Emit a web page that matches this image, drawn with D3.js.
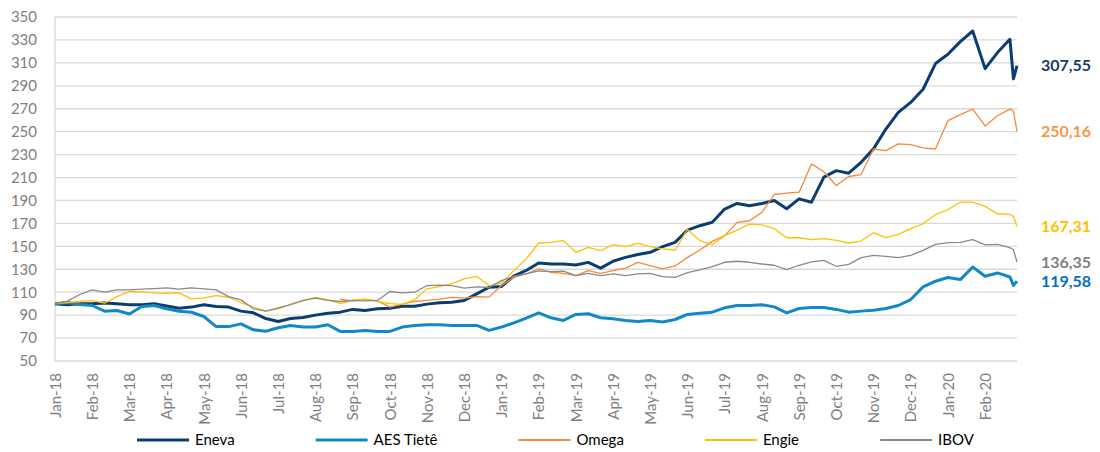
<!DOCTYPE html>
<html>
<head>
<meta charset="utf-8">
<script src="https://cdn.jsdelivr.net/npm/d3@7"></script>
<style>
  body { margin: 0; background: #fff; }
  svg { display: block; font-family: Lato, "Open Sans", sans-serif; }
</style>
</head>
<body>
<svg id="chart" width="1100" height="452"></svg>
<script>
// trading-day index of each sample (labels every 21 trading days)
let day = [];
for (let i = 0; i <= 539; i += 7) day.push(i);
day.push(541, 543);

let months = ['Jan-18', 'Feb-18', 'Mar-18', 'Apr-18', 'May-18', 'Jun-18', 'Jul-18', 'Aug-18',
  'Sep-18', 'Oct-18', 'Nov-18', 'Dec-18', 'Jan-19', 'Feb-19', 'Mar-19', 'Apr-19', 'May-19',
  'Jun-19', 'Jul-19', 'Aug-19', 'Sep-19', 'Oct-19', 'Nov-19', 'Dec-19', 'Jan-20', 'Feb-20'];

let eneva = [100, 99, 100, 100, 100.5, 100, 99, 99, 100, 98, 96, 97, 99, 97.5, 97, 93.5, 92, 87, 84.5, 87,
  88, 90, 91.7, 92.6, 95, 94, 95.5, 96, 97.8, 97.8, 99.6, 100.7, 101.3, 102.8, 108.5, 114.3, 115, 124, 129, 135.5,
  134.6, 134.6, 133.8, 136, 131, 137, 140.4, 142.8, 144.8, 149.7, 153.5, 164.2, 168, 171, 182.5, 187.4, 185.4, 187.4, 190, 182.8,
  191.4, 188.5, 210.3, 216, 213.8, 223.3, 235, 252.3, 266.8, 275.5, 287, 309.4, 317.5, 328.5, 337.8, 305, 319, 330.6, 296, 307.55];

let aes = [100, 101, 99.2, 98.4, 93.4, 94, 91, 97.5, 98.4, 95.5, 93.4, 92.5, 88.8, 80, 80, 82.4, 77.2, 76, 79, 81,
  79.6, 79.6, 81.6, 75.8, 75.8, 76.7, 75.8, 75.8, 79.6, 81, 81.6, 81.6, 81, 81, 81, 76.7, 79.6, 83.3, 87.4, 92,
  87.7, 85.4, 90.6, 91.2, 87.7, 86.8, 85.4, 84.5, 85.4, 84, 86.2, 90.6, 91.7, 92.6, 96.4, 98.4, 98.4, 99, 97.2, 92,
  95.8, 96.7, 96.7, 95, 92.6, 93.5, 94.3, 95.8, 98.4, 103.6, 114.6, 119.6, 122.8, 121, 132, 123.9, 126.8, 123.3, 116, 119.58];

let omega = [null, null, null, null, null, null, null, null, null, null, null, null, null, null, null, null, null, null, null, null,
  null, null, null, 104, 102.5, 103.6, 102.5, 97, 99.6, 101.9, 102.8, 103.9, 105.4, 104.8, 106.2, 105.7, 115.8, 123, 126, 130.3,
  127.4, 126.5, 124.5, 128.8, 126.5, 128.8, 131, 136, 133.2, 130.3, 132.9, 140.4, 146.8, 154.3, 159.3, 170.9, 172.3, 179.6, 195.2, 196.4,
  197.2, 221.9, 215, 203, 210.9, 212.6, 234.9, 233.5, 239.3, 238.7, 235.8, 234.9, 259.6, 264.8, 269.7, 255, 263.9, 269.7, 268, 250.16];

let engie = [100, 101, 101.9, 102.7, 100.4, 106.2, 110.6, 110.3, 109.4, 109.1, 109.4, 104.2, 105.1, 107.1, 105.6, 101, 96.9, 93.4, 95.5, 99.5,
  102.5, 105.4, 103.6, 100.1, 102.8, 104.2, 101.9, 100.1, 99.3, 103.6, 112.9, 114.9, 117.5, 121.6, 123.9, 115.8, 118.1, 128.8, 139, 152.9,
  153.5, 155, 144.8, 149.1, 146.2, 151.4, 149.7, 152.6, 149.7, 147.7, 146.8, 164.8, 154.9, 151.4, 159.3, 164.2, 169.4, 168.8, 165.4, 157.5,
  157.5, 155.8, 156.7, 155.2, 152.9, 154.6, 161.9, 157.5, 160.4, 165.4, 169.7, 177.8, 181.9, 188.6, 188.6, 184.8, 178.4, 177.8, 176, 167.31];

let ibov = [100, 102.2, 108, 112, 110, 112, 112, 112.6, 113.2, 113.8, 112.6, 113.8, 112.9, 112, 106.2, 103.3, 95.5, 93.4, 96.3, 99.2,
  102.8, 104.8, 102.8, 101.9, 102.8, 102.5, 102.8, 110.6, 109.4, 110, 115.8, 116.1, 115.8, 113.5, 114.6, 114.1, 120.1, 123.9, 125.9, 128.6,
  128, 128.3, 124.5, 126.5, 124.5, 125.9, 124.5, 125.9, 126.5, 123.6, 123, 127.1, 129.4, 132.3, 136.1, 137, 136.1, 134.6, 133.5, 129.7,
  133.5, 136.4, 137.8, 132.6, 134.3, 140.1, 142.2, 141.3, 140.1, 142.2, 146.5, 151.7, 153.2, 153.5, 155.8, 151.2, 151.7, 148.8, 147, 136.35];

let names = ['Eneva', 'AES Tietê', 'Omega', 'Engie', 'IBOV'];
let lineColors = ['#0b3d72', '#1189c6', '#f58a3d', '#ffc000', '#8a8a8a'];
let labelColors = ['#1f3864', '#0070c0', '#f79646', '#ffc000', '#7f7f7f'];
let widths = [3, 3, 1.3, 1.3, 1.3];
let yTicks = d3.range(50, 351, 20);

let series = [eneva, aes, omega, engie, ibov].map((values, s) => ({
  name: names[s],
  color: lineColors[s],
  labelColor: labelColors[s],
  width: widths[s],
  points: values.map((v, i) => ({ d: day[i], v: v })),
  last: values[values.length - 1],
}));

let svg = d3.select('#chart');

let x = d3.scaleLinear().domain([0, 543]).range([55, 1017]);
let y = d3.scaleLinear().domain([50, 350]).range([361, 17]);

// gridlines
svg.append('g')
  .selectAll('line')
  .data(yTicks)
  .enter()
  .append('line')
  .attr('x1', x(0))
  .attr('x2', x(543))
  .attr('y1', (d) => y(d))
  .attr('y2', (d) => y(d))
  .attr('stroke', '#d9d9d9')
  .attr('stroke-width', 1.3);

svg.append('line')
  .attr('x1', x(0)).attr('x2', x(0))
  .attr('y1', y(350)).attr('y2', y(50))
  .attr('stroke', '#d9d9d9')
  .attr('stroke-width', 1.3);

// y axis labels
let yAxis = svg.append('g')
  .attr('transform', 'translate(37,0)')
  .call(d3.axisLeft(y).tickValues(yTicks).tickSize(0).tickPadding(0));
yAxis.select('.domain').remove();
yAxis.selectAll('text')
  .attr('fill', '#808080')
  .style('font-size', '15px')
  .style('font-family', 'Lato, sans-serif');

// x axis labels, rotated
let xAxis = svg.append('g')
  .attr('transform', 'translate(0,' + y(50) + ')')
  .call(d3.axisBottom(x)
    .tickValues(months.map((m, k) => k * 21))
    .tickFormat((d) => months[d / 21])
    .tickSize(0));
xAxis.select('.domain').remove();
xAxis.selectAll('text')
  .attr('fill', '#808080')
  .style('font-size', '15px')
  .style('font-family', 'Lato, sans-serif')
  .attr('text-anchor', 'end')
  .attr('transform', 'rotate(-90)')
  .attr('x', -12)
  .attr('y', 0)
  .attr('dy', '0.35em');

// lines
let line = d3.line()
  .defined((p) => p.v != null)
  .x((p) => x(p.d))
  .y((p) => y(p.v));

svg.append('g')
  .selectAll('path')
  .data(series)
  .enter()
  .append('path')
  .attr('d', (s) => line(s.points))
  .attr('fill', 'none')
  .attr('stroke', (s) => s.color)
  .attr('stroke-width', (s) => s.width)
  .attr('stroke-linejoin', 'round');

// end value labels
svg.append('g')
  .selectAll('text')
  .data(series)
  .enter()
  .append('text')
  .attr('x', 1041)
  .attr('y', (s) => y(s.last))
  .attr('dy', '0.35em')
  .attr('fill', (s) => s.labelColor)
  .style('font-size', '16px')
  .style('font-weight', 'bold')
  .text((s) => d3.format('.2f')(s.last).replace('.', ','));

// legend: each entry advances by its text width plus a fixed gap
let legend = svg.append('g')
  .selectAll('g')
  .data(series)
  .enter()
  .append('g');

legend.append('line')
  .attr('x1', 0).attr('x2', 52)
  .attr('stroke', (s) => s.color)
  .attr('stroke-width', (s, i) => (i < 2 ? 3 : 2));

legend.append('text')
  .attr('x', 58)
  .attr('dy', '0.35em')
  .attr('fill', '#000')
  .style('font-size', '15px')
  .text((s) => s.name);

let lx = 137;
legend.each(function () {
  let g = d3.select(this);
  g.attr('transform', 'translate(' + lx + ',440)');
  lx += g.select('text').node().getComputedTextLength() + 139;
});
</script>
</body>
</html>
